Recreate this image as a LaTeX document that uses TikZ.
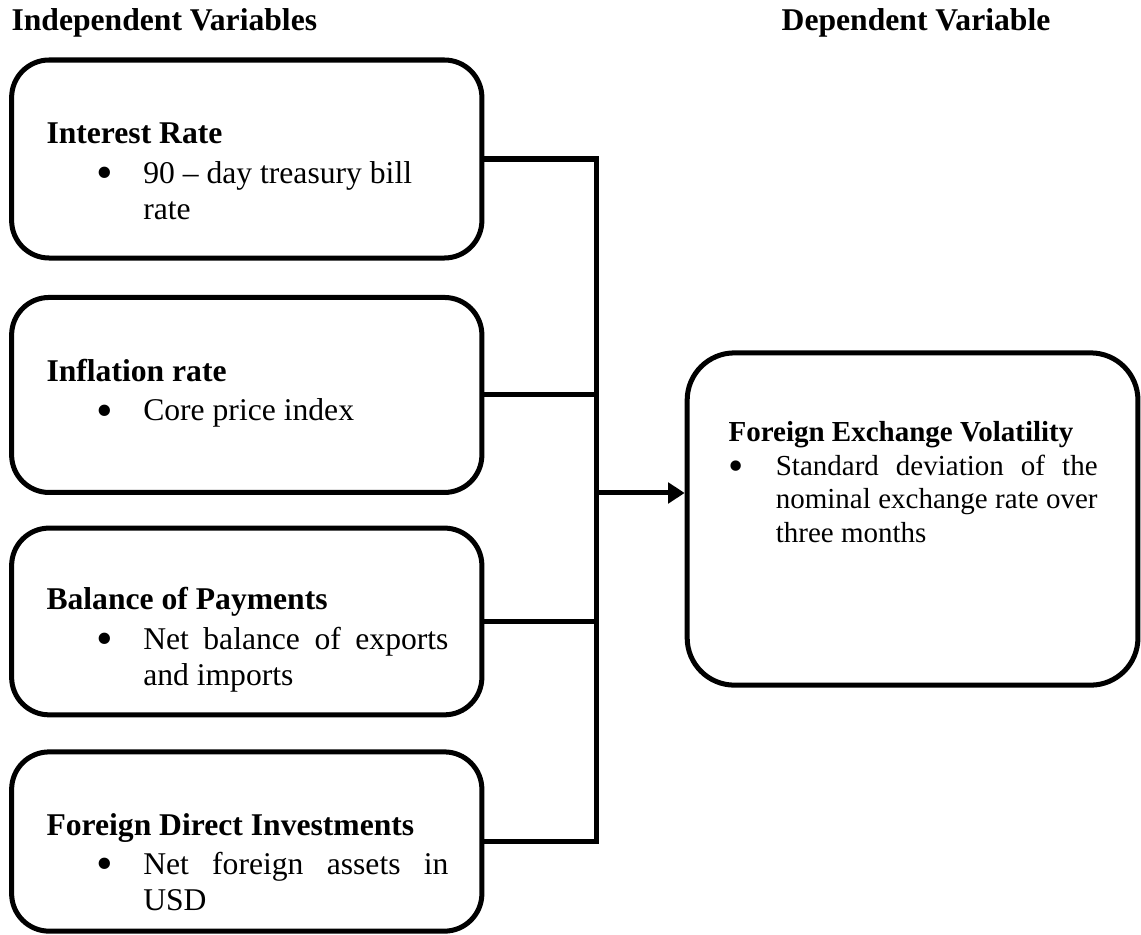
\documentclass[tikz,border=0pt]{standalone}
\usepackage{fontspec}
\setmainfont{Liberation Serif}
\usetikzlibrary{arrows.meta}

\newcommand{\bitem}{\makebox[0.63cm][l]{\raisebox{-2pt}{\scalebox{1.5}{\textbullet}}}}

\begin{document}
\begin{tikzpicture}[>=Stealth,
  font=\fontsize{12}{13.8}\selectfont,
  varbox/.style={draw, line width=1.9pt, rounded corners=0.5cm, inner sep=0pt,
    minimum width=6.27cm},
  vartext/.style={anchor=base west, inner sep=0pt},
  link/.style={line width=1.9pt}]

\useasboundingbox (0,0) rectangle (15.213,12.453);

% Ueberschriften
\node[vartext] (indep) at (0.147,12.04) {\textbf{Independent Variables}};
\node[anchor=base, inner sep=0pt] (dep) at (12.213,12.04) {\textbf{Dependent Variable}};

% unabhaengige Variablen
\node[varbox, minimum height=2.64cm] (rate) at (3.29,10.333) {};
\node[varbox, minimum height=2.6cm] (infl) at (3.29,7.187) {};
\node[varbox, minimum height=2.49cm] (bop) at (3.29,4.167) {};
\node[varbox, minimum height=2.39cm] (fdi) at (3.29,1.233) {};

\node[vartext] (ratetxt) at (0.613,10.533) {\begin{tabular}[t]{@{}l@{}}
  \textbf{Interest Rate}\\[1pt]
  \hspace*{0.66cm}\bitem 90 -- day treasury bill\\
  \hspace*{1.29cm}rate
\end{tabular}};
\node[vartext] (infltxt) at (0.613,7.36) {\begin{tabular}[t]{@{}l@{}}
  \textbf{Inflation rate}\\[1pt]
  \hspace*{0.66cm}\bitem Core price index
\end{tabular}};
\node[vartext] (boptxt) at (0.613,4.32) {\begin{tabular}[t]{@{}l@{}}
  \textbf{Balance of Payments}\\[1pt]
  \hspace*{0.66cm}\bitem\makebox[4.07cm][s]{Net balance of exports}\\
  \hspace*{1.29cm}and imports
\end{tabular}};
\node[vartext] (fditxt) at (0.613,1.32) {\begin{tabular}[t]{@{}l@{}}
  \textbf{Foreign Direct Investments}\\[1pt]
  \hspace*{0.66cm}\bitem\makebox[4.07cm][s]{Net foreign assets in}\\
  \hspace*{1.29cm}USD
\end{tabular}};

% abhaengige Variable
\node[varbox, rounded corners=0.63cm, minimum width=6.01cm, minimum height=4.43cm] (fev) at (12.167,5.533) {};
\node[vartext, font=\fontsize{11}{12.65}\selectfont] (fevtxt) at (9.707,6.56) {\begin{tabular}[t]{@{}l@{}}
  \textbf{Foreign Exchange Volatility}\\
  \bitem\makebox[4.29cm][s]{Standard deviation of the}\\
  \hspace*{0.63cm}\makebox[4.29cm][s]{nominal exchange rate over}\\
  \hspace*{0.63cm}three months
\end{tabular}};

% Verbindungen
\coordinate (spine) at (7.947,0);
\coordinate (join) at (7.947,5.88);
\draw[link] (rate.east) -- (rate.east -| spine) -- (fdi.east -| spine) -- (fdi.east);
\draw[link] (infl.east) -- (infl.east -| spine);
\draw[link] (bop.east) -- (bop.east -| spine);
\draw[link, -{Triangle[length=0.22cm, width=0.27cm]}] (join) -- (join -| fev.west);

\end{tikzpicture}
\end{document}
